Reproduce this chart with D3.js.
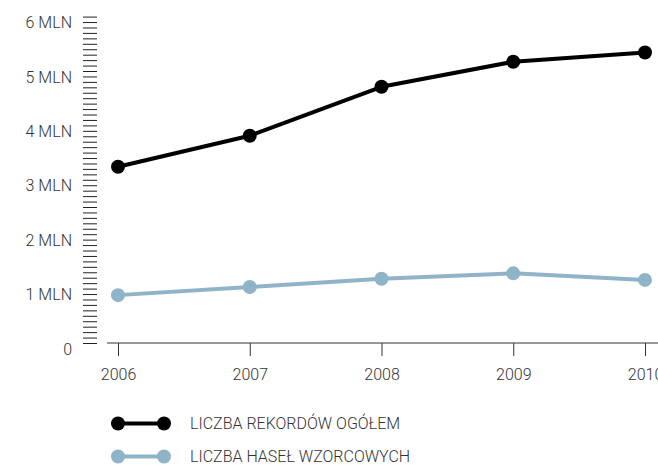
<!DOCTYPE html>
<html>
<head>
<meta charset="utf-8">
<script src="https://cdn.jsdelivr.net/npm/d3@7"></script>
<style>
html,body{margin:0;padding:0;background:#fff;}
svg{display:block;font-family:Roboto, "Noto Sans", sans-serif;font-weight:300;}
</style>
</head>
<body>
<svg id="chart" width="658" height="466"></svg>
<script>
const years = [2006, 2007, 2008, 2009, 2010];
const totalRecords = [3.24, 3.81, 4.71, 5.17, 5.34];
const authorityRecords = [0.88, 1.03, 1.18, 1.28, 1.16];
const yTickValues = [0, 1, 2, 3, 4, 5, 6];
const yTickLabels = ["0", "1 MLN", "2 MLN", "3 MLN", "4 MLN", "5 MLN", "6 MLN"];
const seriesNames = ["LICZBA REKORDÓW OGÓŁEM", "LICZBA HASEŁ WZORCOWYCH"];
const seriesColors = ["#000000", "#8fb3c7"];

const svg = d3.select("#chart");
const x = d3.scaleLinear().domain([2006, 2010]).range([118, 645]);
const y = d3.scaleLinear().domain([0, 6]).range([343, 16.6]);
const textColor = "#333";

// minor ticks on y axis
const minor = d3.range(0, 61).map(i => i / 10);
const yAxis = d3.axisLeft(y).tickValues(minor).tickSize(14).tickFormat("");
const gy = svg.append("g").attr("transform", "translate(97,0)").call(yAxis);
gy.select(".domain").remove();
gy.selectAll(".tick line").attr("stroke", "#222").attr("stroke-width", 1);

// y labels
svg.append("g").selectAll("text").data(yTickValues).join("text")
  .attr("x", 72).attr("y", d => y(d) + 11.5)
  .attr("text-anchor", "end")
  .attr("font-size", 16).attr("font-weight", 300).attr("fill", textColor)
  .text((d, i) => yTickLabels[i]);

// x axis
const xAxis = d3.axisBottom(x).tickValues(years).tickFormat(d3.format("d"))
  .tickSizeInner(13).tickSizeOuter(0).tickPadding(13);
const gx = svg.append("g").attr("transform", "translate(0,343)").call(xAxis);
gx.select(".domain").remove();
gx.append("line").attr("x1", 107).attr("x2", 660).attr("y1", 0).attr("y2", 0)
  .attr("stroke", "#333").attr("stroke-width", 1);
gx.selectAll(".tick line").attr("stroke", "#333").attr("stroke-width", 1);
gx.selectAll(".tick text").attr("font-size", 16).attr("fill", textColor)
  .attr("font-family", "Roboto, sans-serif").attr("font-weight", 300);

// lines
const series = [totalRecords, authorityRecords];
const line = d3.line().x((d, i) => x(years[i])).y(d => y(d));
series.forEach((vals, si) => {
  svg.append("path").datum(vals).attr("d", line)
    .attr("fill", "none").attr("stroke", seriesColors[si]).attr("stroke-width", 4)
    .attr("stroke-linejoin", "round");
  svg.append("g").selectAll("circle").data(vals).join("circle")
    .attr("cx", (d, i) => x(years[i])).attr("cy", d => y(d)).attr("r", 7)
    .attr("fill", seriesColors[si]);
});

// legend
const legendY = [423.5, 456.5];
seriesNames.forEach((name, i) => {
  const g = svg.append("g").attr("transform", `translate(0,${legendY[i]})`);
  g.append("line").attr("x1", 118).attr("x2", 164).attr("stroke", seriesColors[i]).attr("stroke-width", 4);
  g.selectAll("circle").data([118, 164]).join("circle")
    .attr("cx", d => d).attr("cy", 0).attr("r", 7).attr("fill", seriesColors[i]);
  g.append("text").attr("x", 190).attr("y", 5.5)
    .attr("font-size", 16).attr("font-weight", 300).attr("fill", textColor).text(name);
});
</script>
</body>
</html>
